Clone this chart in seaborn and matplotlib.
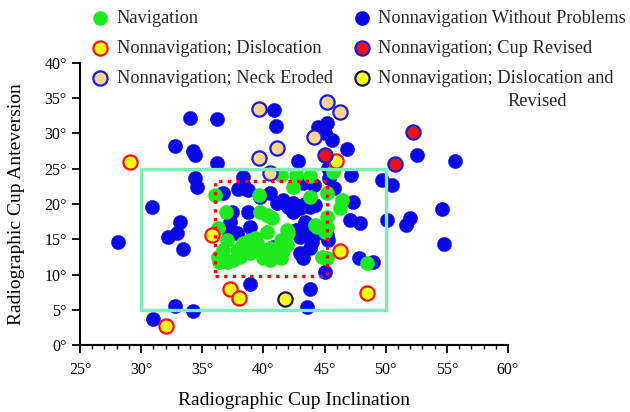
import matplotlib
matplotlib.use("Agg")
import matplotlib.pyplot as plt
from matplotlib.patches import Rectangle
from matplotlib.ticker import MultipleLocator, FuncFormatter
import seaborn as sns
import pandas as pd

# ---------------- data ----------------
nav_x = [36.0, 45.2, 41.4, 42.7, 43.8, 45.7, 46.4, 46.3, 45.2, 45.2, 42.4, 43.8,
         44.4, 41.9, 39.6, 36.9, 39.7, 40.3, 40.7, 44.2, 45.0, 36.3, 37.0, 39.3,
         40.3, 41.4, 41.9, 38.3, 38.9, 36.7, 36.3, 36.4, 37.8, 38.9, 39.5, 40.0,
         40.5, 41.1, 41.5, 41.4, 40.5, 40.0, 38.9, 38.1, 37.5, 37.0, 44.8, 45.2,
         48.5, 42.0]
nav_y = [21.3, 21.6, 24.1, 24.1, 24.0, 24.6, 20.6, 19.4, 18.2, 16.7, 22.4, 21.0,
         16.7, 16.3, 21.3, 18.9, 18.9, 18.4, 18.0, 17.0, 16.0, 16.6, 14.9, 15.2,
         16.0, 14.9, 14.2, 14.5, 13.8, 13.5, 12.5, 11.8, 13.5, 14.9, 14.5, 13.5,
         13.8, 13.5, 13.2, 12.3, 12.1, 12.3, 13.0, 12.5, 12.1, 11.8, 12.5, 12.3,
         11.6, 15.9]

ok_x = [34.0, 36.2, 41.0, 40.9, 32.8, 34.2, 34.4, 36.2, 34.4, 34.6, 38.3, 36.7,
        37.9, 38.4, 30.9, 33.2, 32.2, 32.9, 28.1, 33.4, 37.2, 37.8, 38.9, 32.8,
        34.2, 31.0, 43.8, 43.6, 47.8, 49.0, 54.8, 45.0, 43.0, 43.2, 43.4, 44.0,
        44.9, 51.7, 52.0, 50.1, 47.9, 47.1, 44.5, 45.2, 45.0, 45.6, 46.8, 42.8,
        52.6, 55.7, 47.2, 49.7, 50.5, 47.3, 54.6, 43.2, 42.4, 41.6, 40.5, 39.7,
        45.4, 45.8, 44.2, 45.3, 41.1, 41.8, 42.0, 42.4, 43.0, 43.8, 37.4, 37.3,
        38.7, 38.9, 43.4, 42.7, 43.0, 45.3, 37.4, 43.8, 40.8, 44.0, 45.2, 43.2,
        44.1, 38.7]
ok_y = [32.2, 32.1, 31.1, 33.3, 28.2, 27.5, 26.9, 25.8, 23.7, 22.4, 23.8, 21.6,
        22.1, 22.6, 19.6, 17.4, 15.3, 15.9, 14.6, 13.6, 15.6, 15.9, 8.7, 5.5,
        4.8, 3.7, 7.9, 5.4, 12.3, 11.8, 14.3, 10.4, 13.0, 12.3, 15.6, 14.6,
        15.9, 17.0, 18.0, 17.8, 17.3, 17.8, 30.9, 31.5, 30.1, 29.1, 27.8, 26.1,
        27.0, 26.1, 24.1, 23.4, 22.7, 20.3, 19.3, 19.9, 20.1, 20.6, 21.6, 21.0,
        23.7, 22.3, 19.9, 25.1, 20.1, 20.1, 19.6, 18.9, 19.4, 19.6, 18.9, 17.4,
        18.9, 16.7, 17.4, 16.3, 15.3, 14.9, 16.0, 13.8, 13.9, 15.2, 15.6, 23.0,
        22.7, 22.0]

disl_x = [29.1, 35.8, 37.3, 38.0, 32.0, 46.3, 48.5, 45.9]
disl_y = [26.0, 15.6, 7.9, 6.7, 2.7, 13.3, 7.4, 26.1]

neck_x = [39.6, 45.2, 46.3, 41.1, 39.6, 44.1, 40.5]
neck_y = [33.5, 34.5, 33.0, 27.9, 26.5, 29.5, 24.4]

rev_x = [45.0, 52.2, 50.8]
rev_y = [27.0, 30.2, 25.7]

dr_x = [41.8]
dr_y = [6.5]

x_ticks = [25, 30, 35, 40, 45, 50, 55, 60]
y_ticks = [0, 5, 10, 15, 20, 25, 30, 35, 40]

safe_zone = (30, 50, 5, 25)          # inclination min/max, anteversion min/max
target_zone = (36, 45.2, 9.8, 23.3)

labels = {
    "nav": "Navigation",
    "disl": "Nonnavigation; Dislocation",
    "neck": "Nonnavigation; Neck Eroded",
    "ok": "Nonnavigation Without Problems",
    "rev": "Nonnavigation; Cup Revised",
    "dr": "Nonnavigation; Dislocation and",
}

# ---------------- figure ----------------
sns.set_theme(style="ticks")
plt.rcParams["font.family"] = ["Liberation Serif", "DejaVu Serif"]

fig = plt.figure(figsize=(6.3, 4.12), dpi=100)
ax = fig.add_axes([0.127, 0.1626, 0.6793, 0.6845])

S = 105
def draw(xs, ys, key, face, edge, lw):
    df = pd.DataFrame({"x": xs, "y": ys})
    sns.scatterplot(data=df, x="x", y="y", ax=ax, s=S, color=face,
                    edgecolor=edge, linewidth=lw, label=labels[key], zorder=3)

draw(ok_x, ok_y, "ok", "#0808e8", "#0808e8", 0.3)
draw(nav_x, nav_y, "nav", "#1ee81e", "#1ee81e", 0.3)
draw(disl_x, disl_y, "disl", "#ffff10", "#ff1010", 1.6)
draw(neck_x, neck_y, "neck", "#fbd68f", "#1a1ae0", 1.6)
draw(rev_x, rev_y, "rev", "#f01010", "#1a1ae0", 1.6)
draw(dr_x, dr_y, "dr", "#ffff10", "#141460", 1.6)

x0, x1, y0, y1 = safe_zone
ax.add_patch(Rectangle((x0, y0), x1 - x0, y1 - y0, fill=False,
                       edgecolor="#7eedb6", linewidth=2.4, zorder=5))
x0, x1, y0, y1 = target_zone
ax.add_patch(Rectangle((x0, y0), x1 - x0, y1 - y0, fill=False,
                       edgecolor="#ff0000", linewidth=2.4,
                       linestyle=(0, (1, 1.6)), zorder=6))

ax.set_xlim(25, 60)
ax.set_ylim(0, 40)
ax.set_xticks(x_ticks)
ax.set_yticks(y_ticks)
ax.xaxis.set_minor_locator(MultipleLocator(1))
deg = FuncFormatter(lambda v, p: f"{int(v)}°")
ax.xaxis.set_major_formatter(deg)
ax.yaxis.set_major_formatter(deg)
ax.tick_params(axis="both", which="major", direction="out", length=6, width=1.3,
               labelsize=11.5, color="black", labelcolor="black")
ax.tick_params(axis="x", which="major", pad=6)
ax.tick_params(axis="x", which="minor", direction="out", length=3, width=1.0,
               color="black")
for sp in ("top", "right"):
    ax.spines[sp].set_visible(False)
for sp in ("left", "bottom"):
    ax.spines[sp].set_color("black")
    ax.spines[sp].set_linewidth(1.5)

ax.set_xlabel("Radiographic Cup Inclination", fontsize=14, labelpad=10, color="black")
ax.set_ylabel("Radiographic Cup Anteversion", fontsize=14, labelpad=14, color="black")
ax.set_facecolor("white")

handles, labs = ax.get_legend_handles_labels()
ax.get_legend().remove()
order = ["nav", "disl", "neck", "ok", "rev", "dr"]
hmap = dict(zip(labs, handles))
hs = [hmap[labels[k]] for k in order]
ls = [labels[k] for k in order]
fig.legend(hs, ls, ncol=2, loc="upper left", bbox_to_anchor=(91 / 630, 1 - 10 / 412),
           frameon=False, fontsize=13.2, handlelength=1.0, handletextpad=0.4,
           columnspacing=1.1, labelspacing=0.7, borderpad=0, borderaxespad=0,
           markerscale=1.0)
fig.text(507 / 630, 1 - 101 / 412, "Revised", fontsize=13.2, va="center", ha="left")

fig.savefig("out.png", dpi=100, facecolor="white")
